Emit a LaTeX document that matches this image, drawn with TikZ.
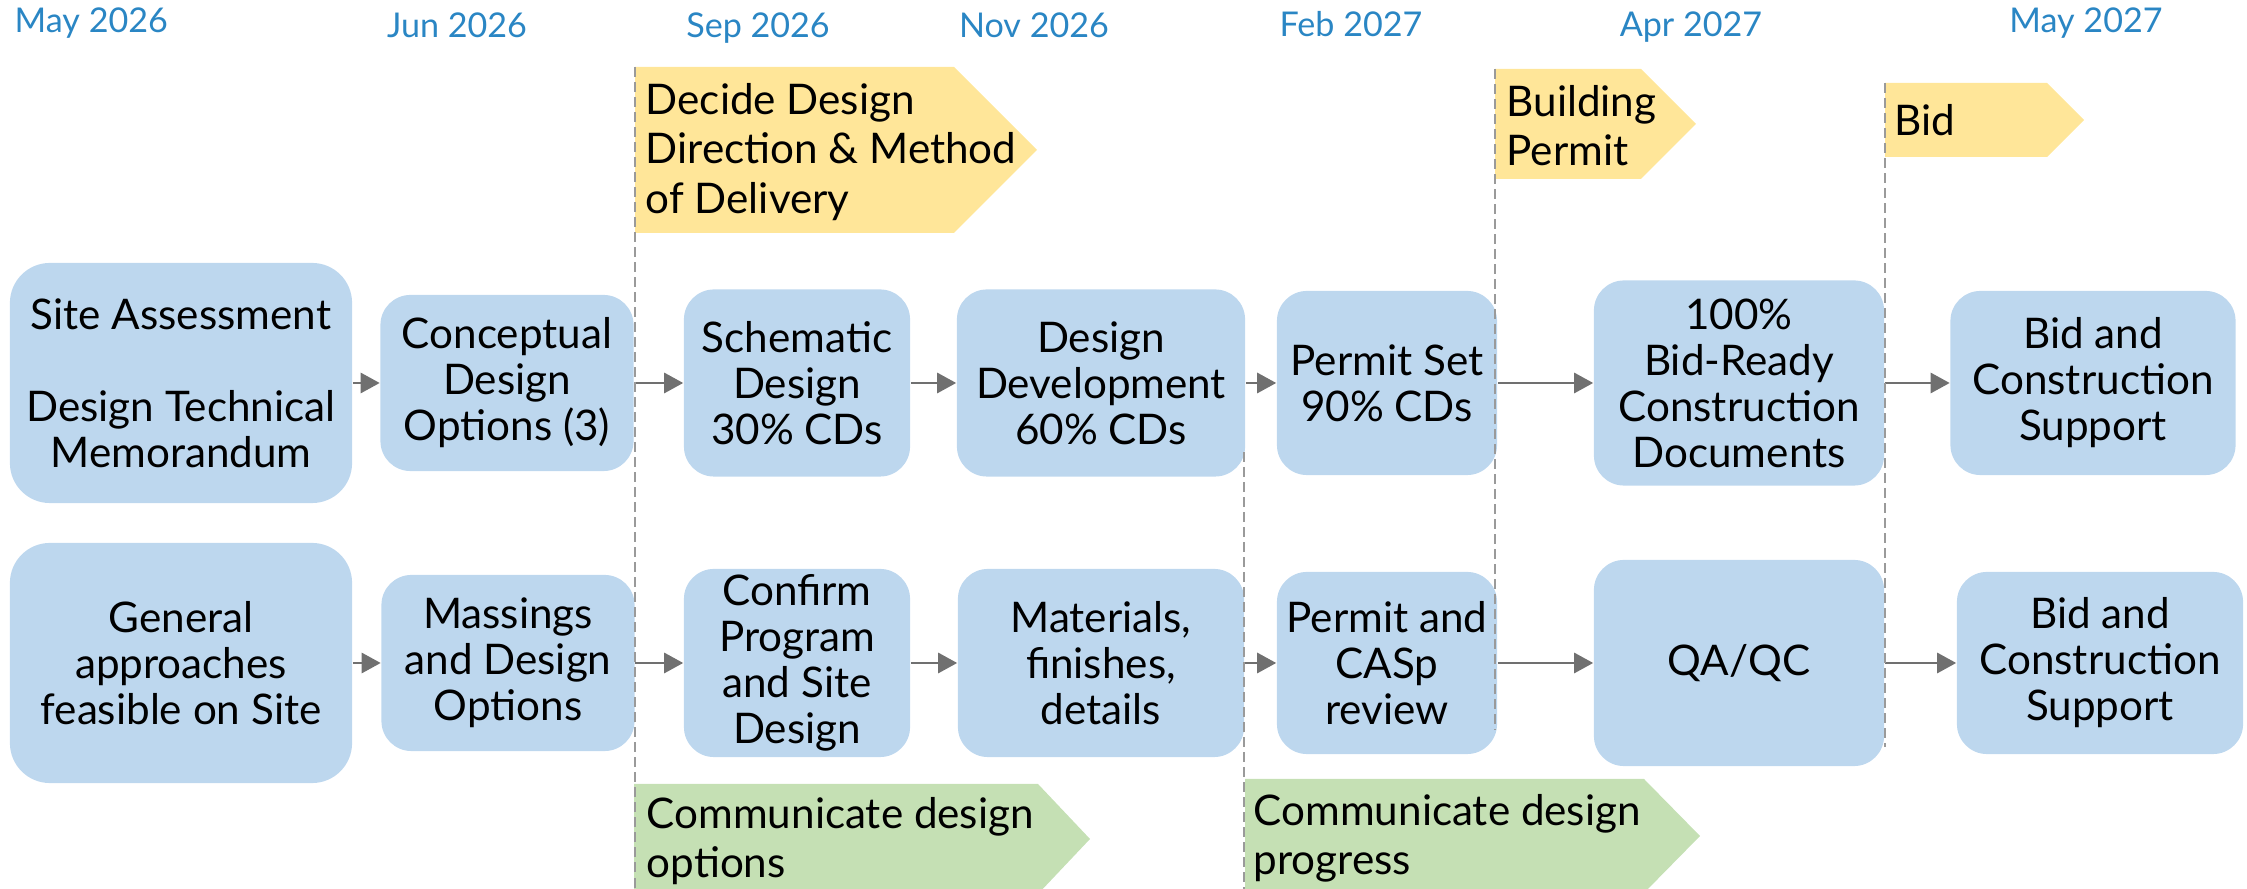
\documentclass[tikz,border=0pt]{standalone}
\usepackage{fontspec}
\setmainfont{Lato}
\usetikzlibrary{arrows.meta}
\definecolor{boxblue}{HTML}{BDD7EE}
\definecolor{flagyellow}{HTML}{FFE699}
\definecolor{flaggreen}{HTML}{C5E0B4}
\definecolor{dateblue}{HTML}{2A86C4}
\definecolor{arrowgray}{HTML}{707070}
\definecolor{linegray}{HTML}{9A9A9A}

\begin{document}
\begin{tikzpicture}[x=0.01cm, y=-0.01cm,
		every node/.style={inner sep=0pt, font=\fontsize{12pt}{13.1pt}\selectfont},
		task/.style={fill=boxblue, rounded corners=0.3cm, align=center},
		date/.style={text=dateblue, anchor=base, font=\fontsize{9.7pt}{11pt}\selectfont},
		flagtext/.style={anchor=west, align=left, font=\fontsize{12pt}{14pt}\selectfont},
		link/.style={draw=arrowgray, line width=0.8pt, -{Triangle[length=0.19cm, width=0.2cm]}},
		milestone/.style={draw=linegray, line width=0.6pt, dash pattern=on 0.1cm off 0.05cm}]
		\useasboundingbox (0,0) rectangle (2247,889);
		\node [date, anchor=base west] (may26) at (14,33) {May 2026};
		\node [date] (jun26) at (457,38) {Jun 2026};
		\node [date] (sep26) at (758,38) {Sep 2026};
		\node [date] (nov26) at (1034,38) {Nov 2026};
		\node [date] (feb27) at (1351,37) {Feb 2027};
		\node [date] (apr27) at (1691,37) {Apr 2027};
		\node [date] (may27) at (2086,33) {May 2027};
		\fill [flagyellow] (635,67) -- (954,67) -- (1037,150) -- (954,233) -- (635,233) -- cycle;
		\node [flagtext] (decide) at (645,152) {Decide Design\\Direction \& Method\\of Delivery};
		\fill [flagyellow] (1495,69) -- (1641,69) -- (1696,124) -- (1641,179) -- (1495,179) -- cycle;
		\node [flagtext] (permitflag) at (1506,126) {Building\\Permit};
		\fill [flagyellow] (1885,83) -- (2047,83) -- (2084,120) -- (2047,157) -- (1885,157) -- cycle;
		\node [flagtext] (bidflag) at (1894,120) {Bid};
		\fill [flaggreen] (634,784) -- (1038,784) -- (1090,839) -- (1038,894) -- (634,894) -- cycle;
		\node [flagtext] (commopt) at (646,841) {Communicate design\\options};
		\fill [flaggreen] (1245,779) -- (1644,779) -- (1700,836) -- (1644,893) -- (1245,893) -- cycle;
		\node [flagtext] (commprog) at (1253,838) {Communicate design\\progress};
		\node [task, minimum width=3.42cm, minimum height=2.40cm, rounded corners=0.4cm] (site) at (181,383) {Site Assessment\\[13.1pt]Design Technical\\Memorandum};
		\node [task, minimum width=2.53cm, minimum height=1.76cm] (concept) at (507,383) {Conceptual\\Design\\Options (3)};
		\node [task, minimum width=2.26cm, minimum height=1.87cm] (schematic) at (797,383) {Schematic\\Design\\30\% CDs};
		\node [task, minimum width=2.88cm, minimum height=1.87cm] (devel) at (1101,383) {Design\\Development\\60\% CDs};
		\node [task, minimum width=2.20cm, minimum height=1.84cm] (permitset) at (1387,383) {Permit Set\\90\% CDs};
		\node [task, minimum width=2.90cm, minimum height=2.05cm] (bidready) at (1739,383) {100\%\\Bid-Ready\\Construction\\Documents};
		\node [task, minimum width=2.85cm, minimum height=1.84cm] (bidone) at (2093,383) {Bid and\\Construction\\Support};
		\node [task, minimum width=3.42cm, minimum height=2.40cm, rounded corners=0.4cm] (general) at (181,663) {General\\approaches\\feasible on Site};
		\node [task, minimum width=2.53cm, minimum height=1.76cm] (massing) at (508,663) {Massings\\and Design\\Options};
		\node [task, minimum width=2.26cm, minimum height=1.88cm] (confirm) at (797,663) {Confirm\\Program\\and Site\\Design};
		\node [task, minimum width=2.86cm, minimum height=1.88cm] (materials) at (1101,663) {Materials,\\finishes,\\details};
		\node [task, minimum width=2.20cm, minimum height=1.82cm] (permitrev) at (1387,663) {Permit and\\CASp\\review};
		\node [task, minimum width=2.90cm, minimum height=2.06cm] (qaqc) at (1739,663) {QA/QC};
		\node [task, minimum width=2.86cm, minimum height=1.82cm] (bidtwo) at (2100,663) {Bid and\\Construction\\Support};
		\draw [link] (site) -- (concept);
		\draw [link] (concept) -- (schematic);
		\draw [link] (schematic) -- (devel);
		\draw [link] (devel) -- (permitset);
		\draw [link] (permitset) -- (bidready);
		\draw [link] (bidready) -- (bidone);
		\draw [link] (general) -- (massing);
		\draw [link] (massing) -- (confirm);
		\draw [link] (confirm) -- (materials);
		\draw [link] (materials) -- (permitrev);
		\draw [link] (permitrev) -- (qaqc);
		\draw [link] (qaqc) -- (bidtwo);
		\draw [milestone] (635,67) -- (635,889);
		\draw [milestone] (1244,452) -- (1244,889);
		\draw [milestone] (1495,69) -- (1495,730);
		\draw [milestone] (1885,83) -- (1885,747);
	\end{tikzpicture}
\end{document}
